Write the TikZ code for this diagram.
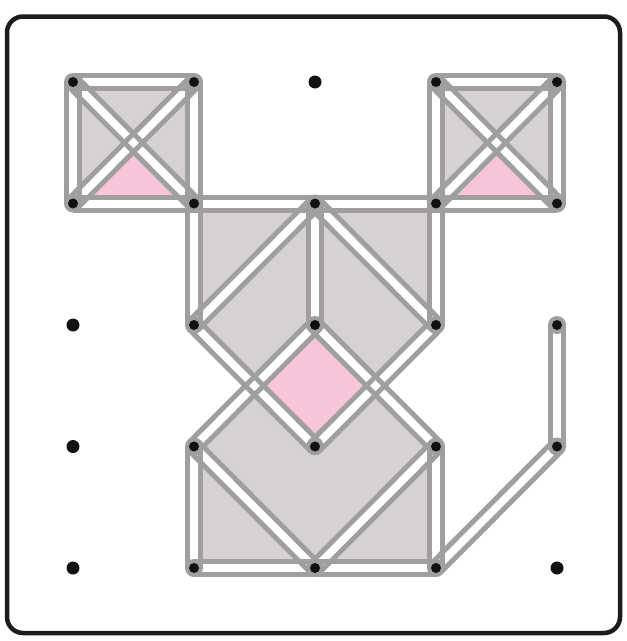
\documentclass[tikz,border=0pt]{standalone}
\usetikzlibrary{calc}
\definecolor{bandgray}{HTML}{A19E9E}
\definecolor{fillgray}{HTML}{D6D2D3}
\definecolor{fillpink}{HTML}{F7C4DA}
\definecolor{pegblack}{HTML}{111111}
\definecolor{framecol}{HTML}{1C1C1C}
\tikzset{
  bandwhite/.style={draw=white,line width=18pt,line cap=round},
  bandline/.style={draw=bandgray,line width=5pt},
  grayreg/.style={fill=fillgray},
  pinkreg/.style={fill=fillpink},
  frame/.style={draw=framecol,line width=4.5pt,rounded corners=16pt}
}
\begin{document}
\begin{tikzpicture}[x=1pt,y=-1pt]
\useasboundingbox (0,0) rectangle (627,641);
\fill[white] (0,0) rectangle (627,641);
\draw[frame] (7,16.5) rectangle (620,633);
\foreach \i in {0,...,4}{\foreach \j in {0,...,4}{
  \coordinate (P\i\j) at ({73+121*\i},{82+121.5*\j});}}
% filled regions
\fill[grayreg] (P00) -- (P10) -- (P11) -- (P01) -- cycle;
\fill[grayreg] (P30) -- (P40) -- (P41) -- (P31) -- cycle;
\fill[pinkreg] ($(P00)!0.5!(P11)$) -- (P11) -- (P01) -- cycle;
\fill[pinkreg] ($(P30)!0.5!(P41)$) -- (P41) -- (P31) -- cycle;
\fill[grayreg] (P11) -- (P31) -- (P32) -- (P23) -- (P12) -- cycle;
\fill[grayreg] (P13) -- (P22) -- (P33) -- (P34) -- (P14) -- cycle;
\fill[pinkreg] (P22) -- ($(P32)!0.5!(P23)$) -- (P23) -- ($(P12)!0.5!(P23)$) -- cycle;
% bands
\def\seglist{00/10,10/11,11/01,01/00,00/11,10/01,
  30/40,40/41,41/31,31/30,30/41,40/31,
  11/31,11/12,31/32,
  21/32,32/23,23/12,12/21,21/22,
  22/33,33/24,24/13,13/22,
  13/14,33/34,14/34,34/43,43/42}
\foreach \a/\b in \seglist { \draw[bandwhite] (P\a) -- (P\b); }
\foreach \a/\b in \seglist {
  \draw[bandline] ($(P\a)!6.5pt!90:(P\b)$) -- ($(P\b)!6.5pt!-90:(P\a)$);
  \draw[bandline] ($(P\a)!6.5pt!-90:(P\b)$) -- ($(P\b)!6.5pt!90:(P\a)$);
}
% pegs
\foreach \p in {00,10,01,11,30,40,31,41,21,12,32,22,23,13,33,24,14,34,43,42}{
  \fill[bandgray] (P\p) circle[radius=9pt];
  \fill[pegblack] (P\p) circle[radius=5pt];
}
\foreach \p in {20,02,03,04,44}{
  \fill[pegblack] (P\p) circle[radius=6.5pt];
}
\end{tikzpicture}
\end{document}
